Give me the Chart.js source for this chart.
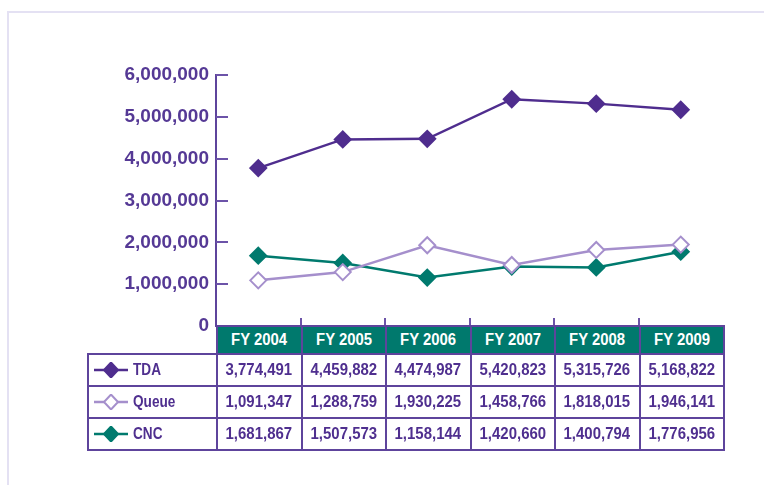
<!DOCTYPE html>
<html>
<head>
<meta charset="utf-8">
<script src="https://cdn.jsdelivr.net/npm/chart.js@4.4.0/dist/chart.umd.min.js"></script>
<style>
    body { margin: 0; background: #fff; }
    #wrap { position: relative; width: 764px; height: 485px; overflow: hidden; }
    #frame { position: absolute; left: 7px; top: 11px; width: 800px; height: 500px;
             border-left: 2px solid #e4e1f3; border-top: 2px solid #e4e1f3; }
    #chart { position: absolute; left: 0; top: 0; }
    #dataTable { position: absolute; left: 87px; top: 325px; width: 636px;
                 border-collapse: collapse; table-layout: fixed;
                 font-family: "Liberation Sans", Arial, sans-serif;
                 font-weight: bold; color: #4f2f8f; }
    #dataTable td, #dataTable th { border: 2px solid #5e449c; padding: 0; text-align: center; }
    #dataTable th { background: #00796d; color: #fff; font-size: 16px; height: 26px; font-weight: bold; }
    #dataTable th.blank { background: transparent; border: none; }
    #dataTable td { font-size: 17px; height: 30px; }
    #dataTable .narrow { display: inline-block; transform: scaleX(0.88); }
    #dataTable th .narrow { transform: scaleX(0.93); }
    #dataTable td.legend { text-align: left; padding-left: 5px; font-size: 17px; }
    #dataTable td.legend svg { vertical-align: middle; }
    #dataTable td.legend span { vertical-align: middle; margin-left: 5px; transform: scaleX(0.8); transform-origin: left center; }
</style>
</head>
<body>
<div id="wrap">
    <div id="frame"></div>
    <canvas id="chart" width="764" height="485"></canvas>
    <table id="dataTable"></table>
</div>
<script>
// Chart values
const categories = ['FY 2004', 'FY 2005', 'FY 2006', 'FY 2007', 'FY 2008', 'FY 2009'];
const tdaValues = [3774491, 4459882, 4474987, 5420823, 5315726, 5168822];
const queueValues = [1091347, 1288759, 1930225, 1458766, 1818015, 1946141];
const cncValues = [1681867, 1507573, 1158144, 1420660, 1400794, 1776956];
const yMin = 0;
const yMax = 6000000;
const yStep = 1000000;

const series = [
    { name: 'TDA', data: tdaValues, color: '#4f2d8e', fill: '#4f2d8e' },
    { name: 'Queue', data: queueValues, color: '#a58fcc', fill: '#ffffff' },
    { name: 'CNC', data: cncValues, color: '#007a6e', fill: '#007a6e' }
];

const fmt = (v) => v.toLocaleString('en-US');

// Small tick marks: y ticks point inward, category separators rise from the axis
const axisMarks = {
    id: 'axisMarks',
    beforeDatasetsDraw(chart) {
        const { ctx, chartArea, scales: { x, y } } = chart;
        ctx.save();
        ctx.strokeStyle = '#6c53a8';
        ctx.lineWidth = 2;
        y.ticks.forEach(t => {
            if (t.value === yMin) return;
            const py = Math.round(y.getPixelForValue(t.value));
            ctx.beginPath();
            ctx.moveTo(chartArea.left, py);
            ctx.lineTo(chartArea.left + 12, py);
            ctx.stroke();
        });
        for (let i = 1; i < categories.length; i++) {
            const px = Math.round((x.getPixelForValue(i - 1) + x.getPixelForValue(i)) / 2);
            ctx.beginPath();
            ctx.moveTo(px, chartArea.bottom);
            ctx.lineTo(px, chartArea.bottom - 8);
            ctx.stroke();
        }
        ctx.restore();
    }
};

const ctx = document.getElementById('chart').getContext('2d');
new Chart(ctx, {
    type: 'line',
    data: {
        labels: categories,
        datasets: series.map(s => ({
            label: s.name,
            data: s.data,
            borderColor: s.color,
            borderWidth: 2.5,
            pointStyle: 'rectRot',
            pointRadius: 8,
            pointBackgroundColor: s.fill,
            pointBorderColor: s.color,
            pointBorderWidth: 2,
            tension: 0,
            clip: false
        }))
    },
    options: {
        responsive: false,
        animation: false,
        layout: { padding: { left: 0, right: 41, top: 75, bottom: 159 } },
        plugins: { legend: { display: false }, tooltip: { enabled: false } },
        scales: {
            x: { display: false, offset: true },
            y: {
                min: yMin,
                max: yMax,
                afterFit: (scale) => { scale.width = 216; },
                grid: { display: false, drawTicks: false },
                border: { display: true, color: '#5e449c', width: 2 },
                ticks: {
                    stepSize: yStep,
                    padding: 7,
                    color: '#553995',
                    font: { family: '"Liberation Sans", Arial, sans-serif', size: 19, weight: 'bold' },
                    callback: (v) => fmt(v)
                }
            }
        }
    },
    plugins: [axisMarks]
});

// Data table under the plot, aligned with the category columns
function legendIcon(s) {
    return `<svg width="34" height="16" viewBox="0 0 34 16">
        <line x1="0" y1="8" x2="34" y2="8" stroke="${s.color}" stroke-width="2.5"/>
        <polygon points="17,0.5 24,8 17,15.5 10,8" fill="${s.fill}" stroke="${s.color}" stroke-width="2"/>
    </svg>`;
}

function buildTable() {
    const table = document.getElementById('dataTable');
    let html = '<colgroup><col style="width:129px">' +
        categories.map(() => '<col style="width:84.5px">').join('') + '</colgroup>';
    html += '<tr><th class="blank"></th>' +
        categories.map(c => `<th><span class="narrow">${c}</span></th>`).join('') + '</tr>';
    series.forEach(s => {
        html += `<tr><td class="legend">${legendIcon(s)}<span class="narrow">${s.name}</span></td>` +
            s.data.map(v => `<td><span class="narrow">${fmt(v)}</span></td>`).join('') + '</tr>';
    });
    table.innerHTML = html;
}

buildTable();
</script>
</body>
</html>
